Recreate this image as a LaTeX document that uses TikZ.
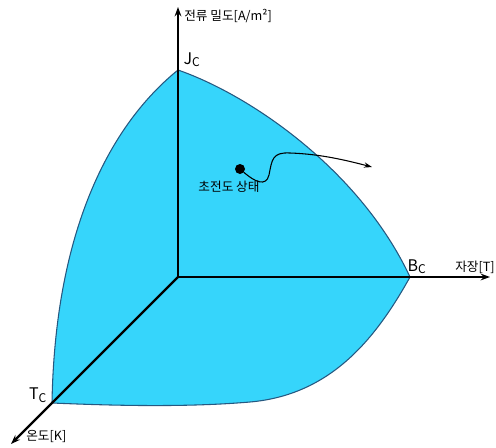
\documentclass[tikz,border=0pt]{standalone}
\usepackage{fontspec}
\setmainfont{Noto Sans CJK KR}
\usetikzlibrary{arrows.meta, positioning}
\definecolor{sccyan}{RGB}{54,213,251}
\definecolor{edgeblue}{RGB}{38,88,128}
\newcommand{\lowsub}[1]{\raisebox{-0.3ex}{\fontsize{9}{9}\selectfont #1}}

\begin{document}
\begin{tikzpicture}[
  x=0.75pt, y=-0.75pt,
  axis/.style={-{Stealth[length=7pt, width=5pt]}, line width=1.8pt, color=black},
  path/.style={-{Stealth[length=6pt, width=4pt]}, line width=0.8pt, color=black},
  region/.style={fill=sccyan, draw=edgeblue, line width=0.8pt},
  crit/.style={inner sep=0pt, font=\fontsize{12}{12}\selectfont},
  lbl/.style={inner sep=0pt, font=\fontsize{9.5}{10}\selectfont}
]
  \useasboundingbox (0,0) rectangle (496,447);

  \coordinate (o)    at (178,277);
  \coordinate (jc)   at (178,70);
  \coordinate (bc)   at (410,277);
  \coordinate (tc)   at (52,403);
  \coordinate (jend) at (178,7);
  \coordinate (bend) at (490,277);
  \coordinate (tend) at (11,444);

  % superconducting region
  \path[region] (jc) .. controls (250,95) and (360,170) .. (bc)
    .. controls (375,340) and (330,395) .. (250,402)
    .. controls (180,408) and (100,405) .. (tc)
    .. controls (55,230) and (110,125) .. (jc) -- cycle;

  \draw[axis] (o) -- (jend);
  \draw[axis] (o) -- (bend);
  \draw[axis] (o) -- (tend);

  \node[lbl, anchor=west]  (jlab) at (184,16) {전류 밀도[A/m²]};
  \node[lbl, anchor=south east] (blab) at (495,274) {자장[T]};
  \node[lbl, anchor=west]  (tlab) at (26,437) {온도[K]};

  \node[crit, anchor=south west, above right=2pt and 4pt of jc] (jcl) {J\lowsub{C}};
  \node[crit, anchor=south west, above right=2pt and -2pt of bc] (bcl) {B\lowsub{C}};
  \node[crit, anchor=south east, above left=0pt and 4pt of tc] (tcl) {T\lowsub{C}};

  \node[circle, fill=black, inner sep=0pt, minimum size=7.5pt] (st) at (240,169) {};
  \node[lbl] (stl) at (229,187) {초전도 상태};
  \coordinate (out) at (372,167);
  \draw[path] (st) .. controls (255,182) and (266,187) .. (269,175)
    .. controls (272,160) and (272,152) .. (290,153)
    .. controls (320,154) and (345,160) .. (out);
\end{tikzpicture}
\end{document}
